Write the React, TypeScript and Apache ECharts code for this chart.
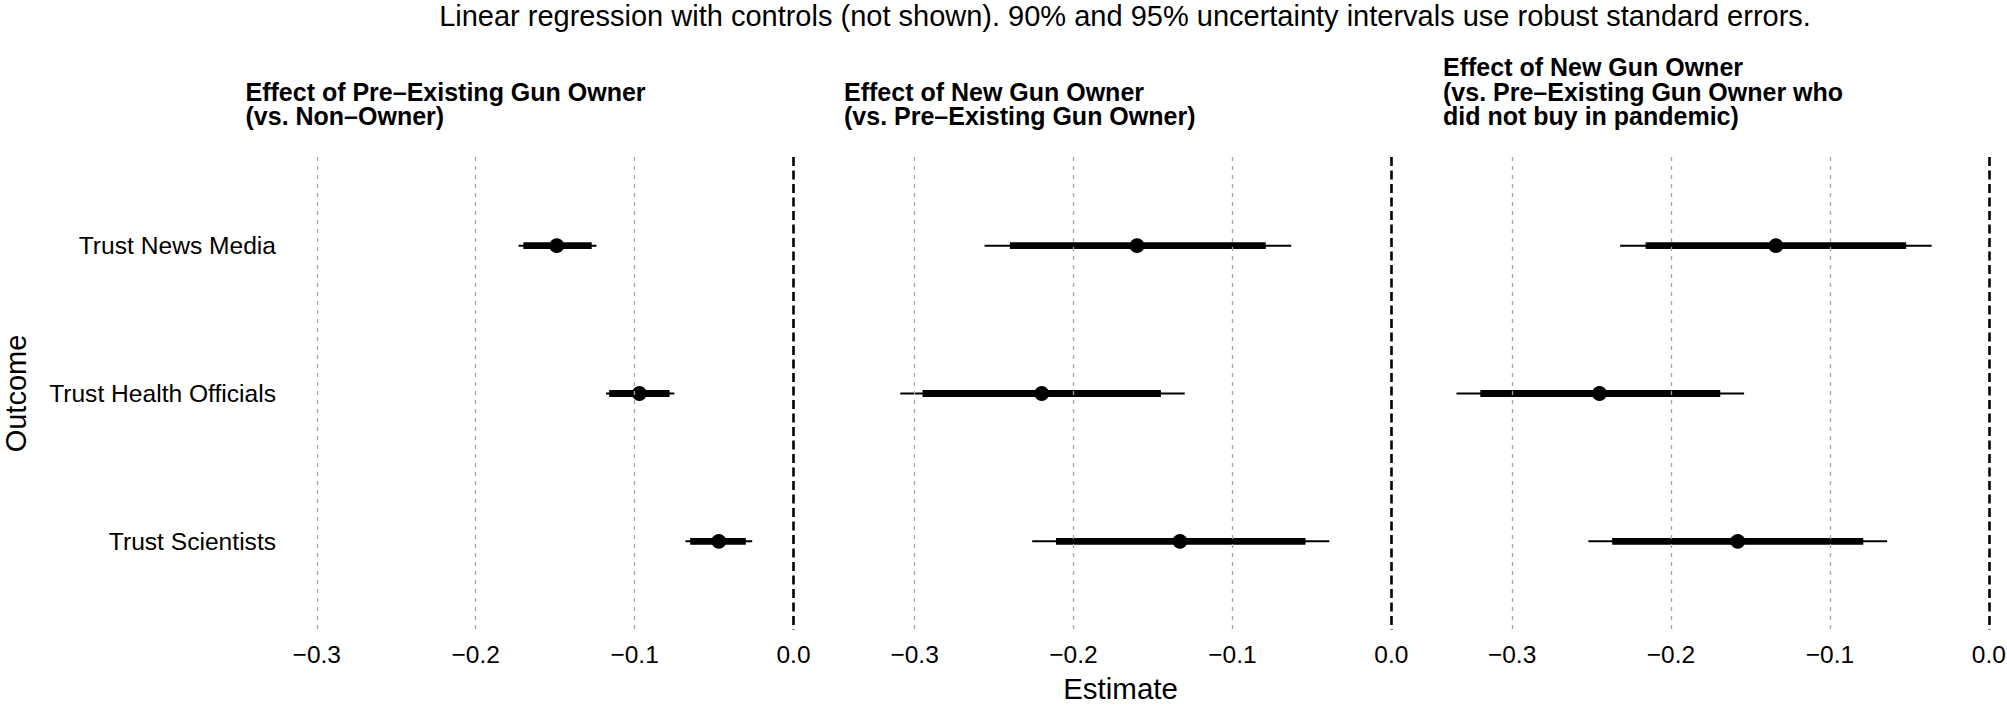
import React, { useEffect, useRef } from "react";
import * as echarts from "echarts";

// ---- data ----
const outcomes = ["Trust News Media", "Trust Health Officials", "Trust Scientists"];
const panelTitles = [
  "Effect of Pre\u2013Existing Gun Owner\n(vs. Non\u2013Owner)",
  "Effect of New Gun Owner\n(vs. Pre\u2013Existing Gun Owner)",
  "Effect of New Gun Owner\n(vs. Pre\u2013Existing Gun Owner who\ndid not buy in pandemic)",
];
const mainTitle =
  "Linear regression with controls (not shown). 90% and 95% uncertainty intervals use robust standard errors.";
const xTicks = [-0.3, -0.2, -0.1, 0];

// Panel 1: Pre-existing owner vs non-owner
const est1 = [-0.149, -0.097, -0.047];
const lo95_1 = [-0.173, -0.118, -0.068];
const hi95_1 = [-0.124, -0.075, -0.026];
const lo90_1 = [-0.17, -0.116, -0.065];
const hi90_1 = [-0.127, -0.078, -0.03];

// Panel 2: New owner vs pre-existing owner
const est2 = [-0.16, -0.22, -0.133];
const lo95_2 = [-0.256, -0.309, -0.226];
const hi95_2 = [-0.063, -0.13, -0.039];
const lo90_2 = [-0.24, -0.295, -0.211];
const hi90_2 = [-0.079, -0.145, -0.054];

// Panel 3: New owner vs pre-existing owner who did not buy in pandemic
const est3 = [-0.134, -0.245, -0.158];
const lo95_3 = [-0.232, -0.335, -0.252];
const hi95_3 = [-0.036, -0.154, -0.064];
const lo90_3 = [-0.216, -0.32, -0.237];
const hi90_3 = [-0.052, -0.169, -0.079];

const panels = [
  { est: est1, lo95: lo95_1, hi95: hi95_1, lo90: lo90_1, hi90: hi90_1 },
  { est: est2, lo95: lo95_2, hi95: hi95_2, lo90: lo90_2, hi90: hi90_2 },
  { est: est3, lo95: lo95_3, hi95: hi95_3, lo90: lo90_3, hi90: hi90_3 },
];

// ---- layout ----
const FONT = "'Liberation Sans', Arial, Helvetica, sans-serif";
const SCALE = 1589; // px per unit
const zeroX = [793.5, 1391.3, 1988.8];
const xMin = [-0.32, -0.35, -0.35];
const xMax = 0.01;
const gridTop = 157;
const gridHeight = 473;

const fmtTick = (v: number) => {
  const s = Math.abs(v).toFixed(1);
  return v < -1e-9 ? "\u2212" + s : s;
};

export default function App() {
  const ref = useRef<HTMLDivElement>(null);

  useEffect(() => {
    if (!ref.current) return;
    const chart = echarts.init(ref.current, undefined, { renderer: "svg" });

    const grids: any[] = [];
    const xAxes: any[] = [];
    const yAxes: any[] = [];
    const series: any[] = [];

    panels.forEach((p, i) => {
      const left = zeroX[i] + xMin[i] * SCALE;
      const width = (xMax - xMin[i]) * SCALE;
      grids.push({
        left,
        top: gridTop,
        width,
        height: gridHeight,
        containLabel: false,
        outerBoundsMode: "none",
      });
      xAxes.push({
        type: "value",
        gridIndex: i,
        min: xMin[i],
        max: xMax,
        axisLine: { show: false },
        axisTick: { show: false, customValues: xTicks },
        splitLine: { show: false },
        axisLabel: {
          customValues: xTicks,
          formatter: (v: number) => fmtTick(v),
          color: "#000",
          fontSize: 24.5,
          fontFamily: FONT,
          margin: 12,
        },
      });
      yAxes.push({
        type: "value",
        gridIndex: i,
        min: 0.4,
        max: 3.6,
        inverse: true,
        axisLine: { show: false },
        axisTick: { show: false, customValues: [1, 2, 3] },
        splitLine: { show: false },
        axisLabel: {
          show: i === 0,
          customValues: [1, 2, 3],
          formatter: (v: number) => outcomes[Math.round(v) - 1] ?? "",
          color: "#000",
          fontSize: 24.6,
          fontFamily: FONT,
          margin: 9,
        },
      });

      // reference lines (grid lines + zero line)
      series.push({
        type: "line",
        xAxisIndex: i,
        yAxisIndex: i,
        data: [],
        silent: true,
        markLine: {
          silent: true,
          symbol: "none",
          label: { show: false },
          animation: false,
          data: [
            ...xTicks
              .filter((t) => t !== 0)
              .map((t) => ({
                xAxis: t,
                lineStyle: { color: "#a3a3a3", width: 1.3, type: [4, 5] },
              })),
            { xAxis: 0, lineStyle: { color: "#000", width: 2.6, type: [9, 4.5] } },
          ],
        },
      });

      const data = outcomes.map((_, k) => [k + 1, p.lo95[k], p.hi95[k], p.lo90[k], p.hi90[k], p.est[k]]);
      series.push({
        type: "custom",
        xAxisIndex: i,
        yAxisIndex: i,
        data,
        encode: { x: [1, 2, 3, 4, 5], y: 0 },
        renderItem: (params: any, api: any) => {
          const y = api.value(0);
          const a95 = api.coord([api.value(1), y]);
          const b95 = api.coord([api.value(2), y]);
          const a90 = api.coord([api.value(3), y]);
          const b90 = api.coord([api.value(4), y]);
          const e = api.coord([api.value(5), y]);
          return {
            type: "group",
            children: [
              {
                type: "line",
                shape: { x1: a95[0], y1: a95[1], x2: b95[0], y2: b95[1] },
                style: { stroke: "#000", lineWidth: 2 },
              },
              {
                type: "line",
                shape: { x1: a90[0], y1: a90[1], x2: b90[0], y2: b90[1] },
                style: { stroke: "#000", lineWidth: 6.8 },
              },
              {
                type: "circle",
                shape: { cx: e[0], cy: e[1], r: 7.4 },
                style: { fill: "#000" },
              },
            ],
          };
        },
      });
    });

    const graphics: any[] = [
      {
        type: "text",
        x: 1125,
        y: 1.5,
        style: {
          text: mainTitle,
          font: `29px ${FONT}`,
          fill: "#000",
          textAlign: "center",
          textVerticalAlign: "top",
        },
      },
      {
        type: "text",
        x: 1120.5,
        y: 688,
        style: {
          text: "Estimate",
          font: `29.5px ${FONT}`,
          fill: "#000",
          textAlign: "center",
          textVerticalAlign: "middle",
        },
      },
      {
        type: "text",
        x: 16,
        y: 393.5,
        rotation: Math.PI / 2,
        style: {
          text: "Outcome",
          font: `29px ${FONT}`,
          fill: "#000",
          textAlign: "center",
          textVerticalAlign: "middle",
        },
      },
    ];
    const titleLeft = [245.5, 844, 1443];
    panelTitles.forEach((t, i) => {
      graphics.push({
        type: "text",
        x: titleLeft[i],
        y: 128.5,
        style: {
          text: t,
          font: `bold 25px ${FONT}`,
          lineHeight: 24.5,
          fill: "#000",
          textAlign: "left",
          textVerticalAlign: "bottom",
        },
      });
    });

    chart.setOption({
      animation: false,
      backgroundColor: "#fff",
      textStyle: { fontFamily: FONT },
      grid: grids,
      xAxis: xAxes,
      yAxis: yAxes,
      series,
      graphic: graphics,
    });

    return () => chart.dispose();
  }, []);

  return (
    <div
      ref={ref}
      style={{ position: "fixed", left: 0, top: 0, width: 2007, height: 717 }}
    />
  );
}
